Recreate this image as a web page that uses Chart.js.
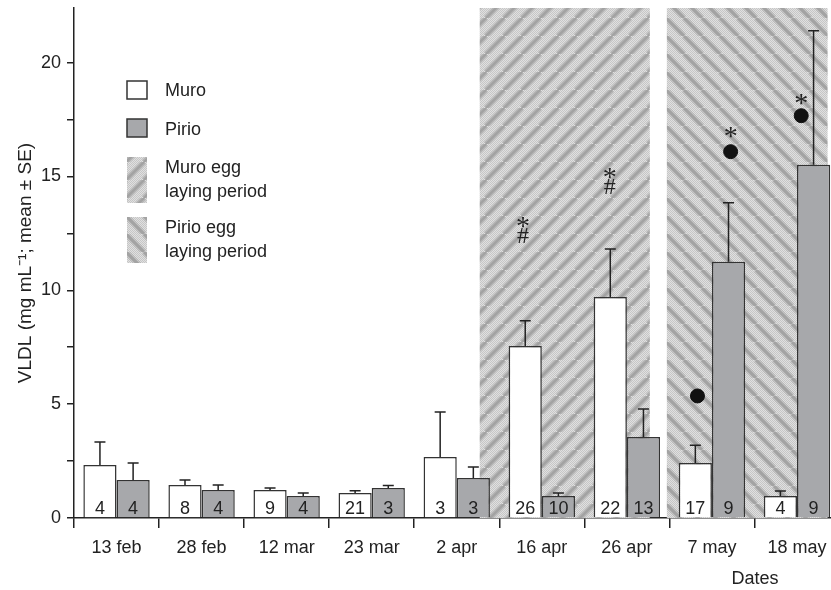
<!DOCTYPE html>
<html>
<head>
<meta charset="utf-8">
<script src="https://cdn.jsdelivr.net/npm/chart.js@4/dist/chart.umd.min.js"></script>
<style>
    html, body { margin: 0; padding: 0; background: #fff; overflow: hidden; }
    canvas { display: block; }
</style>
</head>
<body>
<canvas id="chart" width="831" height="590"></canvas>
<script>

    // sampling dates
    var dates = ['13 feb', '28 feb', '12 mar', '23 mar', '2 apr', '16 apr', '26 apr', '7 may', '18 may']

    // mean VLDL and top of SE whisker
    var muroMean = [2.33, 1.45, 1.23, 1.10, 2.68, 7.56, 9.71, 2.42, 0.97]
    var muroSE   = [3.34, 1.67, 1.32, 1.20, 4.66, 8.66, 11.82, 3.20, 1.19]
    var pirioMean = [1.67, 1.23, 0.97, 1.32, 1.76, 0.97, 3.56, 11.25, 15.52]
    var pirioSE   = [2.42, 1.45, 1.10, 1.43, 2.24, 1.10, 4.79, 13.85, 21.40]

    // sample sizes printed in the bars
    var muroN  = [4, 8, 9, 21, 3, 26, 22, 17, 4]
    var pirioN = [4, 4, 4, 3, 3, 10, 13, 9, 9]

    // black dots
    var dotX = [6.83, 7.22, 8.05]
    var dotY = [5.36, 16.09, 17.67]

    // significance marks
    var markX = [4.78, 4.78, 5.80, 5.80, 7.22, 8.05]
    var markY = [13.0, 12.4, 15.16, 14.55, 16.97, 18.4]
    var markText = ['*', '#', '*', '#', '*', '*']

    // egg laying periods (in date index units)
    var muroEgg  = [4.27, 6.27]
    var pirioEgg = [6.47, 8.36]

    var yTicks = [0, 2.5, 5, 7.5, 10, 12.5, 15, 17.5, 20]

    var ink = '#222'
    var pirioFill = '#a7a8ab'
    var font = 'Liberation Sans, Arial, sans-serif'

    function hatch(dir) {
        var s = 18
        var c = document.createElement('canvas')
        c.width = s
        c.height = s
        var g = c.getContext('2d')
        g.fillStyle = '#e0e0e0'
        g.fillRect(0, 0, s, s)
        g.fillStyle = '#c6c6c6'
        for (var i = 0; i < s; i++) {
            for (var j = 0; j < s; j++) {
                if ((i + j) % 2 == 0) g.fillRect(i, j, 1, 1)
            }
        }
        g.beginPath()
        for (var k = -1; k <= 1; k++) {
            var x0 = k * s
            if (dir > 0) {
                g.moveTo(x0, s)
                g.lineTo(x0 + s, 0)
            } else {
                g.moveTo(x0, 0)
                g.lineTo(x0 + s, s)
            }
        }
        g.strokeStyle = 'rgba(150,150,150,0.35)'
        g.lineWidth = 6
        g.stroke()
        g.strokeStyle = '#a3a3a3'
        g.lineWidth = 3
        g.stroke()
        return g.createPattern(c, 'repeat')
    }

    var el = document.getElementById('chart')
    var muroPattern = hatch(1)
    var pirioPattern = hatch(-1)

    var periods = {
        id: 'periods',
        beforeDatasetsDraw(chart) {
            var { ctx, chartArea } = chart
            var x = chart.scales.x
            var top = chartArea.top
            var bottom = chartArea.bottom
            ctx.save()
            ctx.fillStyle = muroPattern
            var a = x.getPixelForValue(muroEgg[0]), b = x.getPixelForValue(muroEgg[1])
            ctx.fillRect(a, top, b - a, bottom - top)
            ctx.fillStyle = pirioPattern
            a = x.getPixelForValue(pirioEgg[0])
            b = x.getPixelForValue(pirioEgg[1])
            ctx.fillRect(a, top, b - a, bottom - top)
            ctx.restore()
        }
    }

    var extras = {
        id: 'extras',
        afterDatasetsDraw(chart) {
            var { ctx } = chart
            var y = chart.scales.y
            var x = chart.scales.x
            var se = [muroSE, pirioSE]
            var counts = [muroN, pirioN]
            ctx.save()
            ctx.strokeStyle = ink
            ctx.lineWidth = 1.5
            for (var d = 0; d < 2; d++) {
                var meta = chart.getDatasetMeta(d)
                meta.data.forEach(function(bar, i) {
                    var yt = y.getPixelForValue(se[d][i])
                    ctx.beginPath()
                    ctx.moveTo(bar.x, bar.y)
                    ctx.lineTo(bar.x, yt)
                    ctx.moveTo(bar.x - 5.5, yt)
                    ctx.lineTo(bar.x + 5.5, yt)
                    ctx.stroke()
                    ctx.fillStyle = ink
                    ctx.font = '18px ' + font
                    ctx.textAlign = 'center'
                    ctx.textBaseline = 'middle'
                    ctx.fillText(String(counts[d][i]), bar.x, y.getPixelForValue(0) - 9)
                })
            }
            ctx.fillStyle = ink
            ctx.textAlign = 'center'
            ctx.textBaseline = 'middle'
            markText.forEach(function(t, i) {
                ctx.font = (t == '*' ? '28px' : '24px') + ' Liberation Serif, Times New Roman, serif'
                var off = t == '*' ? 6 : 1
                ctx.fillText(t, x.getPixelForValue(markX[i]), y.getPixelForValue(markY[i]) + off)
            })
            ctx.restore()
        },
        afterDraw(chart) {
            var { ctx } = chart
            ctx.save()
            // legend
            var bx = 127, bw = 20
            ctx.lineWidth = 1.5
            ctx.strokeStyle = '#333'
            ctx.fillStyle = '#fff'
            ctx.fillRect(bx, 81, bw, 18)
            ctx.strokeRect(bx, 81, bw, 18)
            ctx.fillStyle = pirioFill
            ctx.fillRect(bx, 119, bw, 18)
            ctx.strokeRect(bx, 119, bw, 18)
            ctx.fillStyle = muroPattern
            ctx.fillRect(bx, 157, bw, 46)
            ctx.fillStyle = pirioPattern
            ctx.fillRect(bx, 217, bw, 46)
            ctx.fillStyle = ink
            ctx.font = '18px ' + font
            ctx.textAlign = 'left'
            ctx.textBaseline = 'middle'
            ctx.fillText('Muro', 165, 91)
            ctx.fillText('Pirio', 165, 130)
            ctx.fillText('Muro egg', 165, 168)
            ctx.fillText('laying period', 165, 192)
            ctx.fillText('Pirio egg', 165, 228)
            ctx.fillText('laying period', 165, 252)
            // x axis title
            ctx.textAlign = 'center'
            ctx.fillText('Dates', 755, 579)
            ctx.restore()
        }
    }

    var chart = {
        type: 'bar',
        data: {
            datasets: [
                {
                    label: 'Muro',
                    data: muroMean.map(function(v, i) { return { x: i, y: v } }),
                    backgroundColor: '#fff',
                    borderColor: '#333',
                    borderWidth: 1.5,
                    categoryPercentage: 0.78,
                    barPercentage: 1
                },
                {
                    label: 'Pirio',
                    data: pirioMean.map(function(v, i) { return { x: i, y: v } }),
                    backgroundColor: pirioFill,
                    borderColor: '#333',
                    borderWidth: 1.5,
                    categoryPercentage: 0.78,
                    barPercentage: 1
                },
                {
                    type: 'scatter',
                    label: 'dots',
                    data: dotX.map(function(v, i) { return { x: v, y: dotY[i] } }),
                    backgroundColor: '#111',
                    borderColor: '#111',
                    pointRadius: 7
                }
            ]
        },
        options: {
            responsive: false,
            animation: false,
            layout: { autoPadding: false, padding: { top: 8, right: 0, left: 14, bottom: 0 } },
            plugins: {
                legend: { display: false },
                tooltip: { enabled: false }
            },
            scales: {
                x: {
                    type: 'linear',
                    min: -0.5,
                    max: 8.4,
                    offset: false,
                    afterBuildTicks(scale) {
                        scale.ticks = dates.map(function(d, i) { return { value: i } })
                    },
                    afterFit(scale) {
                        scale.height = 72
                        scale.paddingLeft = 0
                        scale.paddingRight = 0
                    },
                    grid: { drawOnChartArea: false, drawTicks: true, tickLength: 10, color: ink, lineWidth: 1.5 },
                    border: { color: ink, width: 1.5 },
                    ticks: {
                        color: ink,
                        padding: 9,
                        maxRotation: 0,
                        autoSkip: false,
                        font: { size: 18, family: font },
                        callback(v) { return dates[v] }
                    }
                },
                y: {
                    min: 0,
                    max: 22.4,
                    afterBuildTicks(scale) {
                        scale.ticks = yTicks.map(function(v) { return { value: v } })
                    },
                    afterFit(scale) {
                        scale.width = 60
                        scale.paddingTop = 0
                        scale.paddingBottom = 0
                    },
                    grid: { drawOnChartArea: false, drawTicks: true, tickLength: 7, color: ink, lineWidth: 1.5 },
                    border: { color: ink, width: 1.5 },
                    ticks: {
                        color: ink,
                        padding: 6,
                        font: { size: 18, family: font },
                        callback(v) { return v % 5 == 0 ? v : '' }
                    },
                    title: {
                        display: true,
                        text: 'VLDL (mg mL\u207B\u00B9; mean \u00B1 SE)',
                        color: ink,
                        padding: { top: 0, bottom: 4 },
                        font: { size: 19, family: font }
                    }
                }
            }
        },
        plugins: [periods, extras]
    }

    new Chart(el, chart)
</script>
</body>
</html>
